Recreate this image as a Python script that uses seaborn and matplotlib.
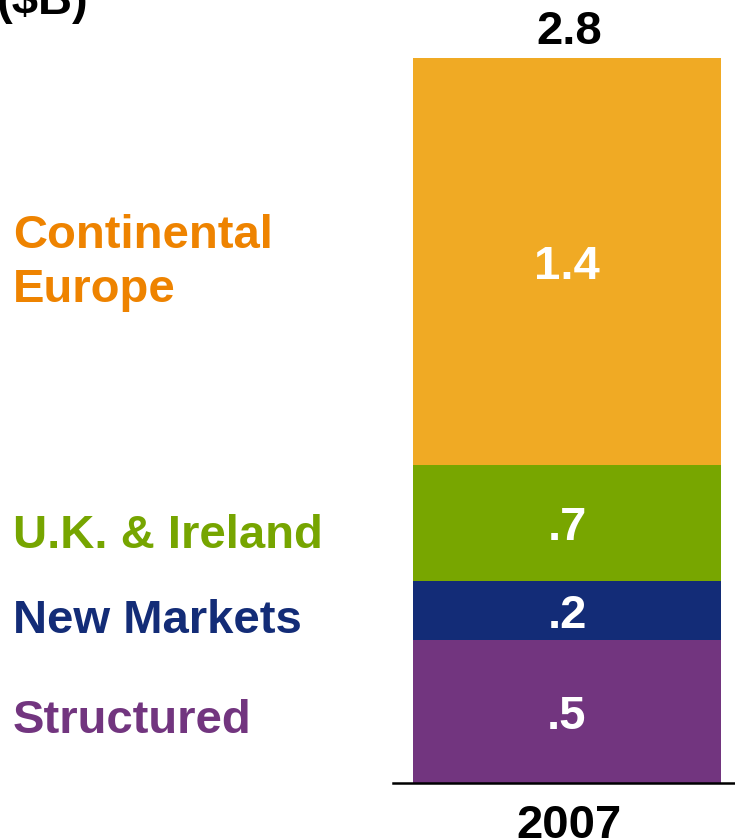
import matplotlib
matplotlib.use("Agg")
import matplotlib.pyplot as plt
import seaborn as sns
import pandas as pd
import numpy as np

# segments, bottom to top
segments = ["Structured", "New Markets", "U.K. & Ireland", "Continental Europe"]
seg_labels = [".5", ".2", ".7", "1.4"]
# drawn heights of the segments ($B)
seg_heights = [0.552, 0.228, 0.448, 1.572]
total_label = "2.8"
year = "2007"

bar_colors = ["#72357F", "#132C77", "#78A600", "#F0AA24"]
text_colors = ["#72357F", "#132C77", "#76A500", "#EE8300"]

sns.set_theme(style="white")
plt.rcParams["font.family"] = ["Liberation Sans", "DejaVu Sans"]
FS = 34

W, H = 735, 839
fig = plt.figure(figsize=(W / 100, H / 100), dpi=100)
# axes spans the baseline (393..735 px) and bar height (58..783 px)
ax = fig.add_axes([393 / W, (H - 783) / H, (W - 393) / W, (783 - 58) / H])

tops = np.cumsum(seg_heights)
# draw cumulative bars from the top down so each layer shows its own segment
for i in reversed(range(len(segments))):
    df = pd.DataFrame({"year": [year], "value": [tops[i]]})
    sns.barplot(data=df, x="year", y="value", color=bar_colors[i],
                saturation=1, width=1.0, ax=ax, linewidth=0)

ax.set_xlim(-174 / 308, 168 / 308)
ax.set_ylim(0, tops[-1])
for s in ["top", "right", "left"]:
    ax.spines[s].set_visible(False)
ax.spines["bottom"].set_color("black")
ax.spines["bottom"].set_linewidth(1.8)
ax.set_xlabel("")
ax.set_ylabel("")
ax.set_yticks([])
ax.set_xticks([])

bottoms = tops - np.array(seg_heights)
for lab, b, h in zip(seg_labels, bottoms, seg_heights):
    ax.text(0, b + h / 2, lab, ha="center", va="center_baseline",
            color="white", fontsize=FS, fontweight="bold")

# total above the bar
fig.text(569 / W, 1 - 44 / H, total_label, ha="center", va="baseline",
         color="black", fontsize=FS, fontweight="bold")

fig.text(569 / W, 1 - 838 / H, year, ha="center", va="baseline",
         color="black", fontsize=FS, fontweight="bold")

# category names on the left
name_lines = [["Structured"], ["New Markets"], ["U.K. & Ireland"], ["Continental", "Europe"]]
name_baselines = [[733], [633], [548], [248, 302]]
for lines, ys, c in zip(name_lines, name_baselines, text_colors):
    for line, y in zip(lines, ys):
        fig.text(13 / W, 1 - y / H, line, ha="left", va="baseline",
                 color=c, fontsize=FS, fontweight="bold")

fig.text(-3 / W, 1 - 14 / H, "($B)", ha="left", va="baseline",
         color="black", fontsize=FS, fontweight="bold")

fig.savefig("out.png", dpi=100)
